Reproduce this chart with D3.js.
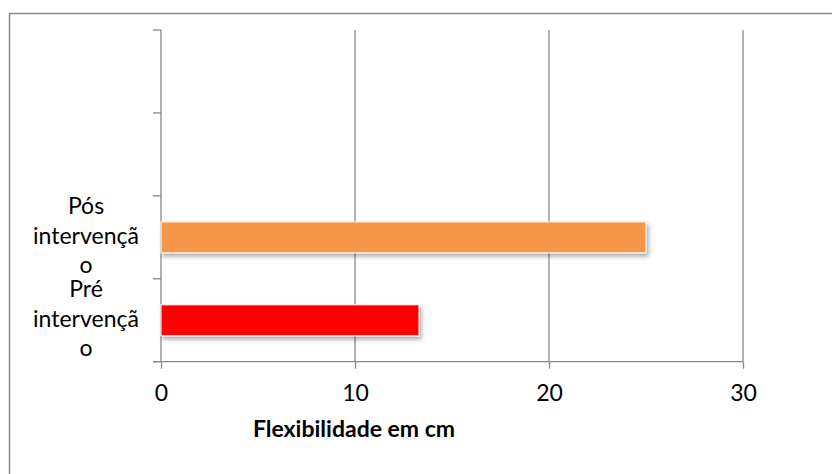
<!DOCTYPE html>
<html>
<head>
<meta charset="utf-8">
<script src="https://cdn.jsdelivr.net/npm/d3@7/dist/d3.min.js"></script>
<style>
  html, body { margin: 0; padding: 0; background: #fff; }
  svg { display: block; }
  text { font-family: Lato, "Open Sans", sans-serif; fill: #000; }
</style>
</head>
<body>
<svg id="chart" width="832" height="474"></svg>
<script>
// Chart data
const categories = ["Pré intervenção", "Pós intervenção"];
const values = [13.3, 25];
const barColors = ["#FF0000", "#F79646"];
const slotCount = 4;               // category slots on the vertical axis
const xTicks = [0, 10, 20, 30];
const axisTitle = "Flexibilidade em cm";

const svg = d3.select("#chart");
const W = 832, H = 474;
const plot = { left: 161, right: 743, top: 30, bottom: 361.7 };
const gridColor = "#898989";

// Outer frame
svg.append("rect")
  .attr("x", 9.5).attr("y", 13.5)
  .attr("width", W + 20).attr("height", H + 20)
  .attr("fill", "#fff").attr("stroke", "#8a8a8a").attr("stroke-width", 1.5);

// Drop shadow for bars
const defs = svg.append("defs");
const f = defs.append("filter").attr("id", "shadow")
  .attr("x", "-5%").attr("y", "-30%").attr("width", "115%").attr("height", "180%");
f.append("feDropShadow")
  .attr("dx", 2).attr("dy", 3).attr("stdDeviation", 2)
  .attr("flood-color", "#000").attr("flood-opacity", 0.35);

const x = d3.scaleLinear().domain([0, 30]).range([plot.left, plot.right]);
const y = d3.scaleBand().domain(d3.range(slotCount)).range([plot.bottom, plot.top]);

// Vertical gridlines
svg.append("g").selectAll("line")
  .data(xTicks.filter(d => d > 0))
  .join("line")
  .attr("x1", d => x(d)).attr("x2", d => x(d))
  .attr("y1", plot.top).attr("y2", plot.bottom)
  .attr("stroke", gridColor).attr("stroke-width", 1.3);

// Bottom axis
const xAxis = d3.axisBottom(x).tickValues(xTicks).tickSize(7).tickPadding(16)
  .tickFormat(d3.format("d"));
const gx = svg.append("g").attr("transform", `translate(0,${plot.bottom})`).call(xAxis);
gx.select(".domain").remove();
gx.selectAll(".tick line").attr("stroke", gridColor).attr("stroke-width", 1.3);
gx.selectAll(".tick text").attr("font-size", 23).attr("fill", "#000")
  .attr("font-family", "Lato, sans-serif");
svg.append("line")
  .attr("x1", plot.left - 8).attr("x2", plot.right)
  .attr("y1", plot.bottom).attr("y2", plot.bottom)
  .attr("stroke", gridColor).attr("stroke-width", 1.3);

// Left axis with ticks at slot boundaries
svg.append("line")
  .attr("x1", plot.left).attr("x2", plot.left)
  .attr("y1", plot.top).attr("y2", plot.bottom)
  .attr("stroke", gridColor).attr("stroke-width", 1.3);
const boundaries = d3.range(slotCount + 1).map(i => i < slotCount ? y(i) + y.bandwidth() : y(slotCount - 1));
svg.append("g").selectAll("line")
  .data(boundaries)
  .join("line")
  .attr("x1", plot.left - 8).attr("x2", plot.left)
  .attr("y1", d => d).attr("y2", d => d)
  .attr("stroke", gridColor).attr("stroke-width", 1.3);

// Bars
const barH = 31;
svg.append("g").attr("filter", "url(#shadow)").selectAll("rect")
  .data(values)
  .join("rect")
  .attr("x", x(0))
  .attr("y", (d, i) => y(i) + y.bandwidth() / 2 - barH / 2)
  .attr("width", d => x(d) - x(0))
  .attr("height", barH)
  .attr("fill", (d, i) => barColors[i])
  .attr("stroke", "rgba(255,255,255,0.7)").attr("stroke-width", 1.5);

// Category labels, wrapped to the label column width
const labelX = 86, maxW = 110, lineH = 29.5;
const labelG = svg.append("g");
categories.forEach((c, i) => {
  const t = labelG.append("text").attr("text-anchor", "middle").attr("font-size", 23);
  const probe = t.append("tspan");
  const lines = [];
  let cur = "";
  const fits = s => { probe.text(s); return probe.node().getComputedTextLength() <= maxW; };
  c.split(" ").forEach(word => {
    const candidate = cur ? cur + " " + word : word;
    if (fits(candidate)) { cur = candidate; return; }
    if (cur) { lines.push(cur); cur = ""; }
    let piece = "";
    for (const ch of word) {
      if (fits(piece + ch)) piece += ch;
      else { lines.push(piece); piece = ch; }
    }
    cur = piece;
  });
  if (cur) lines.push(cur);
  probe.remove();
  const cy = y(i) + y.bandwidth() / 2;
  lines.forEach((ln, k) => {
    t.append("tspan").attr("x", labelX)
      .attr("y", cy + (k - (lines.length - 1) / 2) * lineH + 6.5)
      .text(ln);
  });
});

// Axis title
svg.append("text")
  .attr("x", 354).attr("y", 437)
  .attr("text-anchor", "middle")
  .attr("font-size", 23).attr("font-weight", "bold")
  .text(axisTitle);
</script>
</body>
</html>
